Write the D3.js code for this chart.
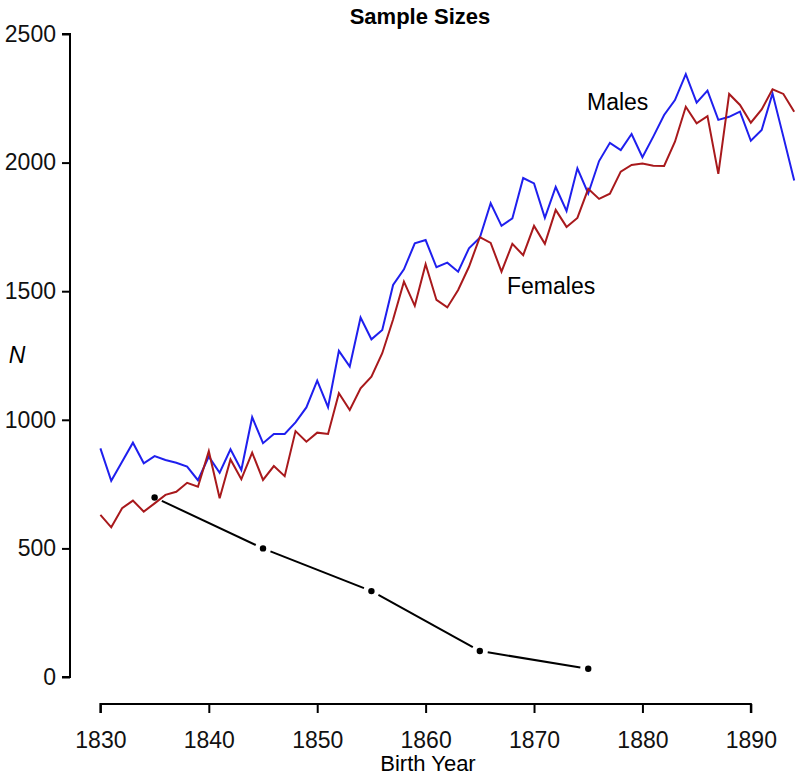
<!DOCTYPE html>
<html>
<head>
<meta charset="utf-8">
<script src="https://cdn.jsdelivr.net/npm/d3@7"></script>
<style>
  body { margin: 0; background: #fff; }
  svg { display: block; font-family: "Liberation Sans", Arial, sans-serif; }
</style>
</head>
<body>
<div id="chart"></div>
<script>
// birth years 1830..1894
var years = d3.range(1830, 1895);

var males = [889, 763, 837, 911, 831, 859, 844, 833, 818, 765,
  857, 794, 885, 805, 1010, 909, 945, 945, 990, 1048,
  1152, 1049, 1268, 1207, 1398, 1313, 1349, 1524, 1585, 1686,
  1699, 1593, 1611, 1576, 1667, 1708, 1842, 1754, 1783, 1940,
  1919, 1785, 1905, 1812, 1978, 1880, 2006, 2077, 2049, 2111,
  2021, 2101, 2185, 2243, 2344, 2233, 2280, 2166, 2178, 2198,
  2085, 2127, 2269, 2101, 1930];

var females = [630, 582, 656, 686, 643, 675, 708, 720, 755, 740,
  878, 695, 846, 769, 872, 766, 820, 781, 956, 915,
  950, 945, 1103, 1038, 1122, 1168, 1259, 1390, 1537, 1443,
  1605, 1466, 1437, 1505, 1595, 1710, 1688, 1576, 1684, 1640,
  1754, 1684, 1816, 1750, 1785, 1898, 1859, 1879, 1965, 1991,
  1996, 1988, 1987, 2081, 2217, 2153, 2181, 1956, 2267, 2224,
  2155, 2207, 2285, 2267, 2198];

// decade sample (points joined by broken line)
var decYears = [1835, 1845, 1855, 1865, 1875];
var decN = [698, 500, 334, 101, 32];

var xTicks = [1830, 1840, 1850, 1860, 1870, 1880, 1890];
var yTicks = [0, 500, 1000, 1500, 2000, 2500];

var width = 799, height = 778;
var fs = 23;

var x = d3.scaleLinear().domain([1830, 1894]).range([100.4, 794.2]);
var y = d3.scaleLinear().domain([0, 2500]).range([677, 34]);

var svg = d3.select('#chart').append('svg')
  .attr('width', width)
  .attr('height', height);

// title
svg.append('text')
  .attr('x', 420).attr('y', 24)
  .attr('text-anchor', 'middle')
  .attr('font-weight', 'bold')
  .attr('font-size', 22)
  .text('Sample Sizes');

// y axis (R style, detached)
var yAxis = d3.axisLeft(y).tickValues(yTicks).tickSize(8).tickPadding(6).tickFormat(d3.format('d'));
var gy = svg.append('g').attr('transform', 'translate(70,0)').call(yAxis);
gy.select('.domain').attr('d', 'M-8,' + y(2500) + 'H0V' + y(0) + 'H-8').attr('stroke-width', 2);
gy.selectAll('.tick line').attr('stroke-width', 2);
gy.selectAll('text').attr('font-size', fs).attr('font-family', '"Liberation Sans", Arial, sans-serif').attr('fill', '#111');

// x axis
var xAxis = d3.axisBottom(x).tickValues(xTicks).tickSize(9).tickPadding(19).tickFormat(d3.format('d'));
var gx = svg.append('g').attr('transform', 'translate(0,704)').call(xAxis);
gx.select('.domain').attr('d', 'M' + x(1830) + ',9V0H' + x(1890) + 'V9').attr('stroke-width', 2);
gx.selectAll('.tick line').attr('stroke-width', 2);
gx.selectAll('text').attr('font-size', fs).attr('font-family', '"Liberation Sans", Arial, sans-serif').attr('fill', '#111');

// axis titles
svg.append('text')
  .attr('x', 428).attr('y', 771)
  .attr('text-anchor', 'middle')
  .attr('font-size', 22)
  .text('Birth Year');

svg.append('text')
  .attr('x', 17).attr('y', 363)
  .attr('text-anchor', 'middle')
  .attr('font-size', fs)
  .attr('font-style', 'italic')
  .text('N');

var line = d3.line()
  .x(function (d, i) { return x(years[i]); })
  .y(function (d) { return y(d); });

svg.append('path')
  .datum(males)
  .attr('d', line)
  .attr('fill', 'none')
  .attr('stroke', '#1f1fee')
  .attr('stroke-width', 2);

svg.append('path')
  .datum(females)
  .attr('d', line)
  .attr('fill', 'none')
  .attr('stroke', '#a8191c')
  .attr('stroke-width', 2);

// broken segments between decade points
var gap = 8;
var segs = d3.range(decYears.length - 1).map(function (i) {
  var x0 = x(decYears[i]), y0 = y(decN[i]);
  var x1 = x(decYears[i + 1]), y1 = y(decN[i + 1]);
  var len = Math.sqrt((x1 - x0) * (x1 - x0) + (y1 - y0) * (y1 - y0));
  var ux = (x1 - x0) / len, uy = (y1 - y0) / len;
  return [x0 + ux * gap, y0 + uy * gap, x1 - ux * gap, y1 - uy * gap];
});

svg.selectAll('line.seg')
  .data(segs)
  .enter().append('line')
  .attr('class', 'seg')
  .attr('x1', function (d) { return d[0]; })
  .attr('y1', function (d) { return d[1]; })
  .attr('x2', function (d) { return d[2]; })
  .attr('y2', function (d) { return d[3]; })
  .attr('stroke', '#000')
  .attr('stroke-width', 2);

svg.selectAll('circle.dec')
  .data(decN)
  .enter().append('circle')
  .attr('class', 'dec')
  .attr('cx', function (d, i) { return x(decYears[i]); })
  .attr('cy', function (d) { return y(d); })
  .attr('r', 3.2)
  .attr('fill', '#000');

// series labels
svg.append('text')
  .attr('x', 587).attr('y', 110)
  .attr('font-size', fs)
  .text('Males');

svg.append('text')
  .attr('x', 507).attr('y', 294)
  .attr('font-size', fs)
  .text('Females');
</script>
</body>
</html>
